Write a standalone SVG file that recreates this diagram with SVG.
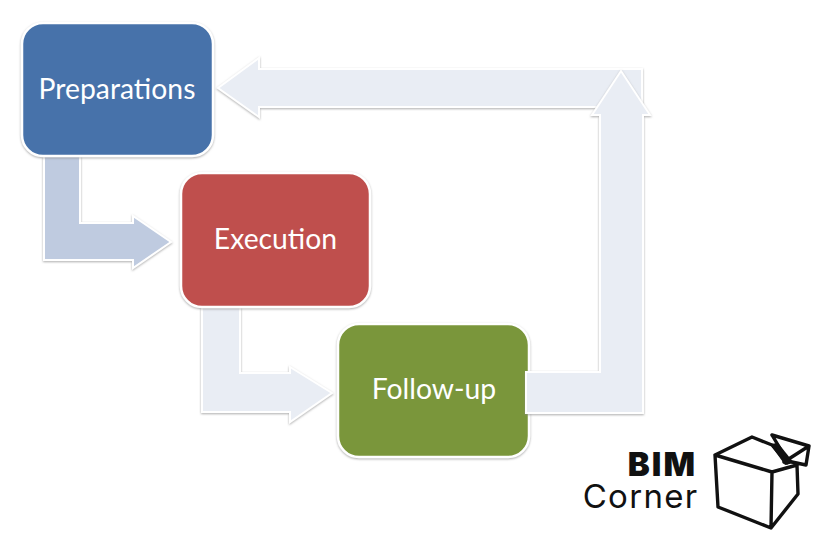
<svg xmlns="http://www.w3.org/2000/svg" width="823" height="553" viewBox="0 0 823 553">
<style>
.arrow{stroke:#fff;stroke-width:2;stroke-linejoin:miter;filter:url(#s)}
.pale{fill:#e9edf4}
.mid{fill:#bfcbe0}
.box{stroke:#fff;stroke-width:2.5;filter:url(#s)}
.lbl{font-family:"Lato","Open Sans",sans-serif;font-size:28.3px;fill:#fff;text-anchor:middle}
.cube{fill:none;stroke:#111;stroke-width:3.4;stroke-linejoin:round;stroke-linecap:round}
.logo{font-family:"Inter","Liberation Sans",sans-serif;fill:#111}
</style>
<defs>
<filter id="s" x="-10%" y="-10%" width="120%" height="120%"><feDropShadow dx="0" dy="1" stdDeviation="0.8" flood-color="#8a8a8a" flood-opacity="0.7"/></filter>
</defs>
<rect width="823" height="553" fill="#fff"/>
<g id="connectors">
<path class="arrow pale" d="M642 69H259V58L218 88L259 117V107H642Z"/>
<path class="arrow mid" d="M44 150H80V223H133V216L171 242L133 268V260H44Z"/>
<path class="arrow pale" d="M202 300H240V373H290V367L332 393L290 422V412H202Z"/>
</g>
<g id="preparations"><rect class="box" x="22" y="23" width="191" height="133" rx="21" fill="#4672aa"/><text class="lbl" x="117" y="98.500">Preparations</text></g>
<g id="execution"><rect class="box" x="181" y="173" width="189" height="134" rx="21" fill="#bf504e"/><text class="lbl" x="275.500" y="248.500">Execution</text></g>
<g id="follow-up"><rect class="box" x="338" y="324" width="191" height="133" rx="21" fill="#7a963a"/><text class="lbl" x="434" y="398.500">Follow-up</text></g>
<g id="return-arrow"><path class="arrow pale" d="M526 372H600V115H592L621 71L650 115H643V413H526Z"/></g>
<g id="logo">
<text class="logo" x="697" y="476" text-anchor="end" font-size="33" font-weight="900" letter-spacing="2">BIM</text>
<text class="logo" x="698.500" y="508" text-anchor="end" font-size="33" font-weight="400" letter-spacing="1.300">Corner</text>
<path class="cube" d="M715 455L772 472L771 528L718 507ZM772 472L797 465L798 494L771 528M715 455L752 437L772 445L787 463M772 435L809 446L806 465L792 462M784 462L809 446M772 435L787 460"/>
<path d="M770 444L778 443L794 463L785 465Z" fill="#111"/>
</g>
</svg>
